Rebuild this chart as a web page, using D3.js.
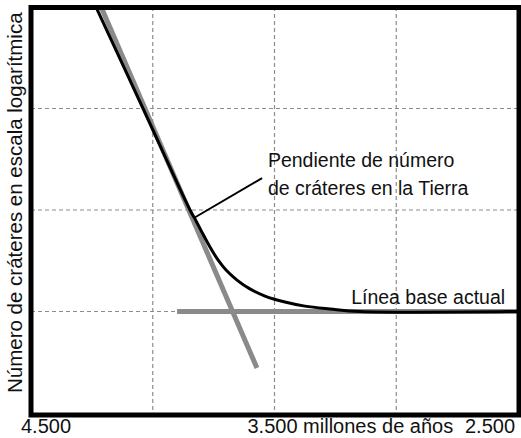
<!DOCTYPE html>
<html>
<head>
<meta charset="utf-8">
<script src="https://cdn.jsdelivr.net/npm/d3@7"></script>
<style>
  html, body { margin: 0; padding: 0; background: #fff; }
  svg { display: block; }
  text { font-family: "Liberation Sans", Arial, sans-serif; fill: #111; }
</style>
</head>
<body>
<svg id="chart" width="521" height="438"></svg>
<script>
// ---- data ----
const xTicks = [4500, 4000, 3500, 3000, 2500];
const yTicks = [1, 10, 100, 1000, 10000];
const xLabelValues = [4500, 3500, 2500];
const xLabelTexts = ["4.500", "3.500 millones de años", "2.500"];
const yAxisTitle = "Número de cráteres en escala logarítmica";

const curveYears   = [4233, 4040, 3847, 3822, 3794, 3765, 3732, 3699, 3654, 3601, 3539, 3457, 3375, 3272, 3149, 2500];
const curveCraters = [10000, 1000, 100, 78, 58, 43.2, 32.2, 25.6, 20.4, 16.7, 14.2, 12.4, 11.3, 10.6, 10, 10];

const slopeYears   = [4212, 3572];
const slopeCraters = [10000, 2.78];

const baselineYears   = [3900, 2500];
const baselineCraters = [10, 10];

const slopeNoteLines = ["Pendiente de número", "de cráteres en la Tierra"];
const slopeNoteAnchor = [3527, 265];      // year, craters
const leaderYears   = [3551, 3831];
const leaderCraters = [206, 83.4];
const baselineNote = "Línea base actual";
const baselineNoteAnchor = [2553, 11.9];

// ---- layout ----
const svg = d3.select("#chart");
const pLeft = 31, pRight = 518, pTop = 7, pBottom = 413;

const x = d3.scaleLinear().domain([4500, 2500]).range([pLeft, pRight]);
const y = d3.scaleLog().domain([1, 10000]).range([pBottom, pTop]);

svg.append("defs").append("clipPath").attr("id", "plotClip")
  .append("rect").attr("x", pLeft).attr("y", pTop)
  .attr("width", pRight - pLeft).attr("height", pBottom - pTop);

// baseline band (gray)
svg.append("g").attr("clip-path", "url(#plotClip)").append("path")
  .datum(baselineYears.map((d, i) => [d, baselineCraters[i]]))
  .attr("d", d3.line().x(d => x(d[0])).y(d => y(d[1])))
  .attr("stroke", "#8a8a8a").attr("stroke-width", 5).attr("fill", "none");

// grid
const grid = svg.append("g");
grid.selectAll("line.v").data(xTicks.slice(1, -1)).join("line")
  .attr("class", "v")
  .attr("x1", d => x(d)).attr("x2", d => x(d))
  .attr("y1", pTop).attr("y2", 415)
  .attr("stroke", "#8c8c8c").attr("stroke-width", 1.2).attr("stroke-dasharray", "4,3");
grid.selectAll("line.h").data(yTicks.slice(1, -1)).join("line")
  .attr("class", "h")
  .attr("x1", pLeft).attr("x2", pRight)
  .attr("y1", d => y(d)).attr("y2", d => y(d))
  .attr("stroke", "#8c8c8c").attr("stroke-width", 1.2).attr("stroke-dasharray", "4,3");

const plot2 = svg.append("g").attr("clip-path", "url(#plotClip)");

// slope line (gray)
plot2.append("path")
  .datum(slopeYears.map((d, i) => [d, slopeCraters[i]]))
  .attr("d", d3.line().x(d => x(d[0])).y(d => y(d[1])))
  .attr("stroke", "#8a8a8a").attr("stroke-width", 5).attr("fill", "none");

// crater curve (black)
plot2.append("path")
  .datum(curveYears.map((d, i) => [d, curveCraters[i]]))
  .attr("d", d3.line().x(d => x(d[0])).y(d => y(d[1])).curve(d3.curveCatmullRom.alpha(0.5)))
  .attr("stroke", "#000").attr("stroke-width", 3).attr("fill", "none");

// leader line
svg.append("path")
  .datum(leaderYears.map((d, i) => [d, leaderCraters[i]]))
  .attr("d", d3.line().x(d => x(d[0])).y(d => y(d[1])))
  .attr("stroke", "#000").attr("stroke-width", 2).attr("fill", "none");

// annotation texts
svg.append("text")
  .attr("x", x(slopeNoteAnchor[0])).attr("y", y(slopeNoteAnchor[1]))
  .attr("font-size", 19.5)
  .selectAll("tspan").data(slopeNoteLines).join("tspan")
  .attr("x", x(slopeNoteAnchor[0])).attr("dy", (d, i) => i === 0 ? 0 : 28)
  .text(d => d);

svg.append("text")
  .attr("x", x(baselineNoteAnchor[0])).attr("y", y(baselineNoteAnchor[1]))
  .attr("text-anchor", "end").attr("font-size", 19.5)
  .text(baselineNote);

// frame
svg.append("rect")
  .attr("x", pLeft).attr("y", pTop + 0.5)
  .attr("width", 519 - pLeft).attr("height", 415 - pTop - 0.5)
  .attr("fill", "none").attr("stroke", "#000").attr("stroke-width", 5);

// x labels
svg.selectAll("text.xl").data(xLabelValues).join("text")
  .attr("class", "xl")
  .attr("x", (d, i) => i === 0 ? x(d) - 10 : i === 1 ? x(d) - 27 : x(d) - 53)
  .attr("y", 433)
  .attr("font-size", 20)
  .text((d, i) => xLabelTexts[i]);

// y title
svg.append("text")
  .attr("transform", "translate(21.5,393) rotate(-90)")
  .attr("font-size", 20.5)
  .text(yAxisTitle);
</script>
</body>
</html>
